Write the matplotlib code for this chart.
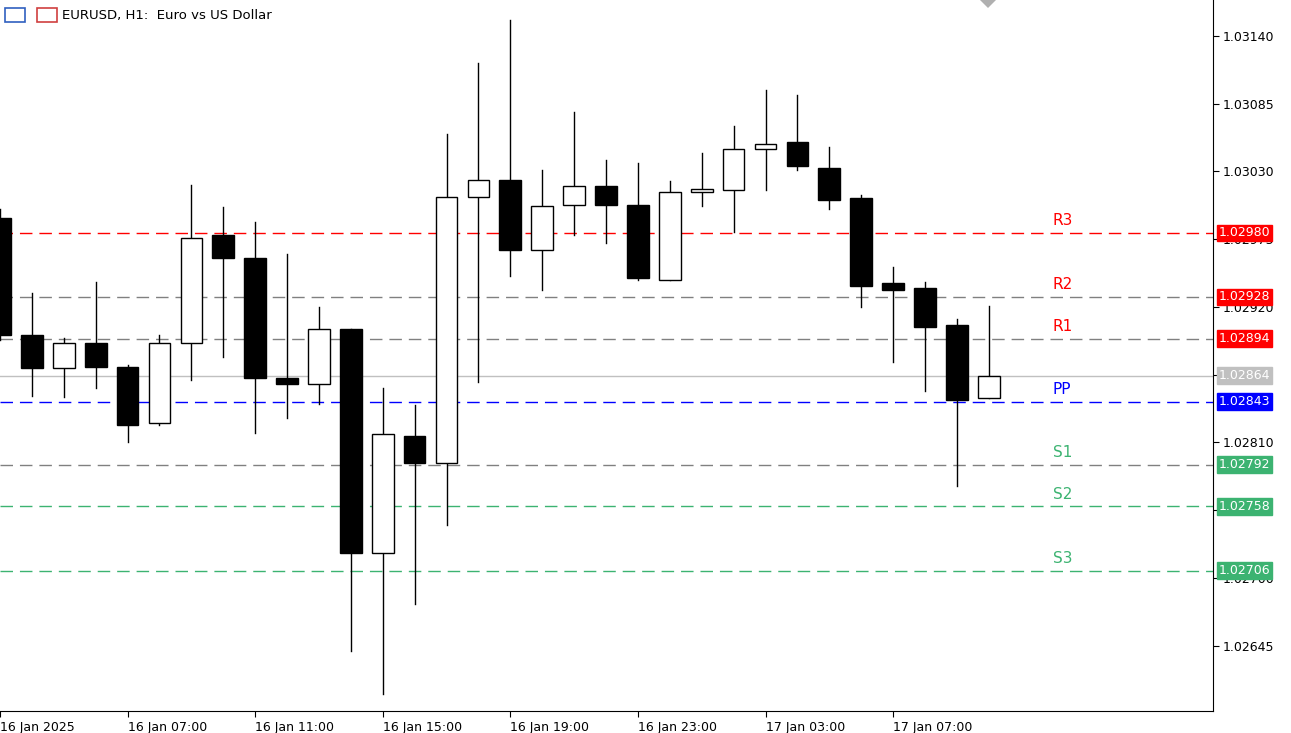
import matplotlib
matplotlib.use("Agg")
import matplotlib.pyplot as plt
from matplotlib.patches import Rectangle, Polygon

opens  = [1.02992,1.02897,1.02870,1.02891,1.02871,1.02826,1.02891,1.02978,1.02960,1.02862,1.02857,1.02902,1.02720,1.02815,1.02793,1.03009,1.03023,1.02966,1.03003,1.03018,1.03003,1.02942,1.03013,1.03015,1.03048,1.03054,1.03033,1.03008,1.02939,1.02935,1.02905,1.02846]
highs  = [1.02999,1.02931,1.02895,1.02940,1.02873,1.02897,1.03019,1.03001,1.02989,1.02963,1.02920,1.02902,1.02854,1.02840,1.03060,1.03118,1.03153,1.03031,1.03078,1.03039,1.03037,1.03022,1.03045,1.03067,1.03096,1.03092,1.03050,1.03011,1.02952,1.02940,1.02910,1.02921]
lows   = [1.02893,1.02848,1.02847,1.02854,1.02810,1.02824,1.02861,1.02879,1.02818,1.02830,1.02841,1.02641,1.02606,1.02679,1.02743,1.02859,1.02945,1.02934,1.02978,1.02972,1.02942,1.02942,1.03002,1.02981,1.03015,1.03031,1.02999,1.02920,1.02875,1.02852,1.02775,1.02846]
closes = [1.02897,1.02870,1.02891,1.02871,1.02824,1.02891,1.02976,1.02960,1.02862,1.02857,1.02902,1.02720,1.02817,1.02793,1.03009,1.03023,1.02966,1.03002,1.03018,1.03003,1.02943,1.03013,1.03016,1.03048,1.03052,1.03034,1.03007,1.02937,1.02934,1.02904,1.02844,1.02864]

level_names  = ["R3","R2","R1","PP","S1","S2","S3"]
level_values = [1.02980,1.02928,1.02894,1.02843,1.02792,1.02758,1.02706]
current_price = 1.02864

xtick_idx    = [0,4,8,12,16,20,24,28]
xtick_labels = ["16 Jan 2025","16 Jan 07:00","16 Jan 11:00","16 Jan 15:00","16 Jan 19:00","16 Jan 23:00","17 Jan 03:00","17 Jan 07:00"]
ytick_vals   = [1.02645,1.02700,1.02755,1.02810,1.02865,1.02920,1.02975,1.03030,1.03085,1.03140]

RED="#ff0000"; GREEN="#3cb371"; BLUE="#0000ff"; GRAY="#808080"
line_colors = [RED,GRAY,GRAY,BLUE,GRAY,GREEN,GREEN]
text_colors = [RED,RED,RED,BLUE,GREEN,GREEN,GREEN]
box_colors  = [RED,RED,RED,BLUE,GREEN,GREEN,GREEN]

fig = plt.figure(figsize=(12.91,7.33), dpi=100)
ax = fig.add_axes([0,0.030,1213/1291,0.970])
ax.set_xlim(0.125,38.03)
ax.set_ylim(1.02592,1.03169)

w = 0.68
for i,(o,h,l,c) in enumerate(zip(opens,highs,lows,closes)):
    ax.plot([i,i],[l,h],color="black",lw=1,zorder=3)
    bottom=min(o,c); height=max(abs(c-o),0.000004)
    fc = "white" if c>=o else "black"
    ax.add_patch(Rectangle((i-w/2,bottom),w,height,facecolor=fc,edgecolor="black",lw=1,zorder=4))

for name,v,lc,tc in zip(level_names,level_values,line_colors,text_colors):
    ax.axhline(v,color=lc,lw=1,ls=(0,(9,5)),zorder=2)
    ax.text(33.0,v+0.00004,name,color=tc,fontsize=11,va="bottom",ha="left")
ax.axhline(current_price,color="#c0c0c0",lw=1,zorder=1)

ax.yaxis.tick_right()
ax.set_yticks(ytick_vals)
ax.set_yticklabels([f"{v:.5f}" for v in ytick_vals],fontsize=9)
ax.tick_params(axis="y",direction="out",length=4,pad=3)
ax.set_xticks(xtick_idx)
ax.set_xticklabels(xtick_labels,fontsize=9,ha="left")
ax.tick_params(axis="x",direction="out",length=4,pad=3)
for s in ["top","left"]:
    ax.spines[s].set_visible(False)

for v,bc in list(zip(level_values,box_colors))+[(current_price,"#c0c0c0")]:
    ax.annotate(f"{v:.5f}",xy=(1.0,v),xycoords=("axes fraction","data"),xytext=(4,0),
                textcoords="offset points",va="center",ha="left",fontsize=9,color="white",
                bbox=dict(boxstyle="square,pad=0.15",fc=bc,ec=bc),zorder=10,annotation_clip=False)

fig.text(62/1291,1-15/733,"EURUSD, H1:  Euro vs US Dollar",fontsize=9.5,va="center",ha="left")
fig.patches.append(Rectangle((5/1291,1-22/733),20/1291,14/733,transform=fig.transFigure,fc="white",ec="#3060c0",lw=1.2))
fig.patches.append(Rectangle((37/1291,1-22/733),20/1291,14/733,transform=fig.transFigure,fc="white",ec="#d04040",lw=1.2))
fig.patches.append(Polygon([(980/1291,1.0),(996/1291,1.0),(988/1291,1-8/733)],closed=True,transform=fig.transFigure,fc="#b0b0b0",ec="none"))

fig.savefig("out.png",dpi=100)
